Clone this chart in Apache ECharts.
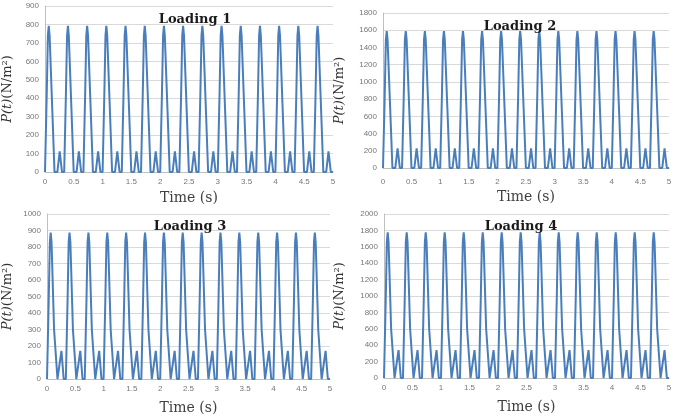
<!DOCTYPE html>
<html>
<head>
<meta charset="utf-8">
<script src="https://cdn.jsdelivr.net/npm/echarts@6/dist/echarts.min.js"></script>
<style>
html,body{margin:0;padding:0;background:#fff;}
#c{width:676px;height:416px;}
</style>
</head>
<body>
<div id="c"></div>
<script>
// Time samples (s) – shared by all four loadings
var time = [
  0.000, 0.030, 0.050, 0.065, 0.080, 0.125, 0.165, 0.185, 0.215, 0.255, 0.295,
  0.333, 0.363, 0.383, 0.398, 0.413, 0.458, 0.498, 0.518, 0.548, 0.588, 0.628,
  0.667, 0.697, 0.717, 0.732, 0.747, 0.792, 0.832, 0.852, 0.882, 0.922, 0.962,
  1.000, 1.030, 1.050, 1.065, 1.080, 1.125, 1.165, 1.185, 1.215, 1.255, 1.295,
  1.333, 1.363, 1.383, 1.398, 1.413, 1.458, 1.498, 1.518, 1.548, 1.588, 1.628,
  1.667, 1.697, 1.717, 1.732, 1.747, 1.792, 1.832, 1.852, 1.882, 1.922, 1.962,
  2.000, 2.030, 2.050, 2.065, 2.080, 2.125, 2.165, 2.185, 2.215, 2.255, 2.295,
  2.333, 2.363, 2.383, 2.398, 2.413, 2.458, 2.498, 2.518, 2.548, 2.588, 2.628,
  2.667, 2.697, 2.717, 2.732, 2.747, 2.792, 2.832, 2.852, 2.882, 2.922, 2.962,
  3.000, 3.030, 3.050, 3.065, 3.080, 3.125, 3.165, 3.185, 3.215, 3.255, 3.295,
  3.333, 3.363, 3.383, 3.398, 3.413, 3.458, 3.498, 3.518, 3.548, 3.588, 3.628,
  3.667, 3.697, 3.717, 3.732, 3.747, 3.792, 3.832, 3.852, 3.882, 3.922, 3.962,
  4.000, 4.030, 4.050, 4.065, 4.080, 4.125, 4.165, 4.185, 4.215, 4.255, 4.295,
  4.333, 4.363, 4.383, 4.398, 4.413, 4.458, 4.498, 4.518, 4.548, 4.588, 4.628,
  4.667, 4.697, 4.717, 4.732, 4.747, 4.792, 4.832, 4.852, 4.882, 4.922, 4.962,
  5.000
];

// Loading 1 (N/m²)
var loading1 = [
  0, 420, 740, 792, 740, 350, 0, 0, 0, 112, 0,
  0, 420, 740, 792, 740, 350, 0, 0, 0, 112, 0,
  0, 420, 740, 792, 740, 350, 0, 0, 0, 112, 0,
  0, 420, 740, 792, 740, 350, 0, 0, 0, 112, 0,
  0, 420, 740, 792, 740, 350, 0, 0, 0, 112, 0,
  0, 420, 740, 792, 740, 350, 0, 0, 0, 112, 0,
  0, 420, 740, 792, 740, 350, 0, 0, 0, 112, 0,
  0, 420, 740, 792, 740, 350, 0, 0, 0, 112, 0,
  0, 420, 740, 792, 740, 350, 0, 0, 0, 112, 0,
  0, 420, 740, 792, 740, 350, 0, 0, 0, 112, 0,
  0, 420, 740, 792, 740, 350, 0, 0, 0, 112, 0,
  0, 420, 740, 792, 740, 350, 0, 0, 0, 112, 0,
  0, 420, 740, 792, 740, 350, 0, 0, 0, 112, 0,
  0, 420, 740, 792, 740, 350, 0, 0, 0, 112, 0,
  0, 420, 740, 792, 740, 350, 0, 0, 0, 112, 0,
  0
];

// Loading 2 (N/m²)
var loading2 = [
  0, 840, 1490, 1590, 1490, 700, 0, 0, 0, 228, 0,
  0, 840, 1490, 1590, 1490, 700, 0, 0, 0, 228, 0,
  0, 840, 1490, 1590, 1490, 700, 0, 0, 0, 228, 0,
  0, 840, 1490, 1590, 1490, 700, 0, 0, 0, 228, 0,
  0, 840, 1490, 1590, 1490, 700, 0, 0, 0, 228, 0,
  0, 840, 1490, 1590, 1490, 700, 0, 0, 0, 228, 0,
  0, 840, 1490, 1590, 1490, 700, 0, 0, 0, 228, 0,
  0, 840, 1490, 1590, 1490, 700, 0, 0, 0, 228, 0,
  0, 840, 1490, 1590, 1490, 700, 0, 0, 0, 228, 0,
  0, 840, 1490, 1590, 1490, 700, 0, 0, 0, 228, 0,
  0, 840, 1490, 1590, 1490, 700, 0, 0, 0, 228, 0,
  0, 840, 1490, 1590, 1490, 700, 0, 0, 0, 228, 0,
  0, 840, 1490, 1590, 1490, 700, 0, 0, 0, 228, 0,
  0, 840, 1490, 1590, 1490, 700, 0, 0, 0, 228, 0,
  0, 840, 1490, 1590, 1490, 700, 0, 0, 0, 228, 0,
  0
];

// Loading 3 (N/m²)
var loading3 = [
  0, 470, 830, 888, 830, 300, 100, 0, 0, 170, 0,
  0, 470, 830, 888, 830, 300, 100, 0, 0, 170, 0,
  0, 470, 830, 888, 830, 300, 100, 0, 0, 170, 0,
  0, 470, 830, 888, 830, 300, 100, 0, 0, 170, 0,
  0, 470, 830, 888, 830, 300, 100, 0, 0, 170, 0,
  0, 470, 830, 888, 830, 300, 100, 0, 0, 170, 0,
  0, 470, 830, 888, 830, 300, 100, 0, 0, 170, 0,
  0, 470, 830, 888, 830, 300, 100, 0, 0, 170, 0,
  0, 470, 830, 888, 830, 300, 100, 0, 0, 170, 0,
  0, 470, 830, 888, 830, 300, 100, 0, 0, 170, 0,
  0, 470, 830, 888, 830, 300, 100, 0, 0, 170, 0,
  0, 470, 830, 888, 830, 300, 100, 0, 0, 170, 0,
  0, 470, 830, 888, 830, 300, 100, 0, 0, 170, 0,
  0, 470, 830, 888, 830, 300, 100, 0, 0, 170, 0,
  0, 470, 830, 888, 830, 300, 100, 0, 0, 170, 0,
  0
];

// Loading 4 (N/m²)
var loading4 = [
  0, 940, 1660, 1776, 1660, 600, 200, 0, 0, 340, 0,
  0, 940, 1660, 1776, 1660, 600, 200, 0, 0, 340, 0,
  0, 940, 1660, 1776, 1660, 600, 200, 0, 0, 340, 0,
  0, 940, 1660, 1776, 1660, 600, 200, 0, 0, 340, 0,
  0, 940, 1660, 1776, 1660, 600, 200, 0, 0, 340, 0,
  0, 940, 1660, 1776, 1660, 600, 200, 0, 0, 340, 0,
  0, 940, 1660, 1776, 1660, 600, 200, 0, 0, 340, 0,
  0, 940, 1660, 1776, 1660, 600, 200, 0, 0, 340, 0,
  0, 940, 1660, 1776, 1660, 600, 200, 0, 0, 340, 0,
  0, 940, 1660, 1776, 1660, 600, 200, 0, 0, 340, 0,
  0, 940, 1660, 1776, 1660, 600, 200, 0, 0, 340, 0,
  0, 940, 1660, 1776, 1660, 600, 200, 0, 0, 340, 0,
  0, 940, 1660, 1776, 1660, 600, 200, 0, 0, 340, 0,
  0, 940, 1660, 1776, 1660, 600, 200, 0, 0, 340, 0,
  0, 940, 1660, 1776, 1660, 600, 200, 0, 0, 340, 0,
  0
];

var titles = ['Loading 1', 'Loading 2', 'Loading 3', 'Loading 4'];
var yMax = [900, 1800, 1000, 2000];
var yStep = [100, 200, 100, 200];
var xName = 'Time (s)';

var allSeries = [loading1, loading2, loading3, loading4];

var grids = [
  {left: 43, top: 6, width: 290, height: 166},
  {left: 383, top: 13, width: 286, height: 155},
  {left: 41, top: 214, width: 289, height: 167},
  {left: 384, top: 214, width: 285, height: 164}
];
var titlePos = [[190, 15], [515, 22], [185, 222], [516, 222]];
var xLabelMargin = [6, 10, 6, 6];
var xNameGap = [19, 22, 22, 22];
var yNameGap = [31, 37, 33, 38];

var serif = '"DejaVu Serif", "Liberation Serif", serif';
var sans = '"Liberation Sans", Arial, sans-serif';

var option = {
  animation: false,
  backgroundColor: '#ffffff',
  title: titles.map(function (t, i) {
    return {
      text: t, left: titlePos[i][0], top: titlePos[i][1],
      textAlign: 'center', textVerticalAlign: 'middle',
      textStyle: {fontFamily: serif, fontWeight: 'bold', fontSize: 13, color: '#1a1a1a'}
    };
  }),
  grid: grids,
  xAxis: grids.map(function (g, i) {
    return {
      type: 'value', gridIndex: i, min: 0, max: 5, interval: 0.5,
      name: xName, nameLocation: 'middle', nameGap: xNameGap[i],
      nameTextStyle: {fontFamily: serif, fontSize: 14, color: '#404040'},
      axisLine: {show: true, lineStyle: {color: '#bfbfbf', width: 1}},
      axisTick: {show: false},
      splitLine: {show: false},
      axisLabel: {fontFamily: sans, fontSize: 8, color: '#777777', margin: xLabelMargin[i]}
    };
  }),
  yAxis: grids.map(function (g, i) {
    return {
      type: 'value', gridIndex: i, min: 0, max: yMax[i], interval: yStep[i],
      name: '{it|P(t)}{n|(N/m²)}', nameLocation: 'middle', nameGap: yNameGap[i], nameRotate: 90,
      nameTextStyle: {
        rich: {
          it: {fontFamily: serif, fontStyle: 'italic', fontSize: 13, color: '#333333'},
          n: {fontFamily: serif, fontSize: 13, color: '#333333'}
        }
      },
      axisLine: {show: true, lineStyle: {color: '#bfbfbf', width: 1}},
      axisTick: {show: false},
      splitLine: {show: true, lineStyle: {color: '#d9d9d9', width: 1}},
      axisLabel: {
        fontFamily: sans, fontSize: 8, color: '#777777', margin: 6,
        formatter: function (v) { return String(v); }
      }
    };
  }),
  series: allSeries.map(function (vals, i) {
    return {
      type: 'line', xAxisIndex: i, yAxisIndex: i,
      showSymbol: false, symbol: 'none',
      lineStyle: {color: '#4a7ebb', width: 2},
      data: time.map(function (t, k) { return [t, vals[k]]; })
    };
  })
};

var chart = echarts.init(document.getElementById('c'), null, {renderer: 'canvas'});
chart.setOption(option);
</script>
</body>
</html>
